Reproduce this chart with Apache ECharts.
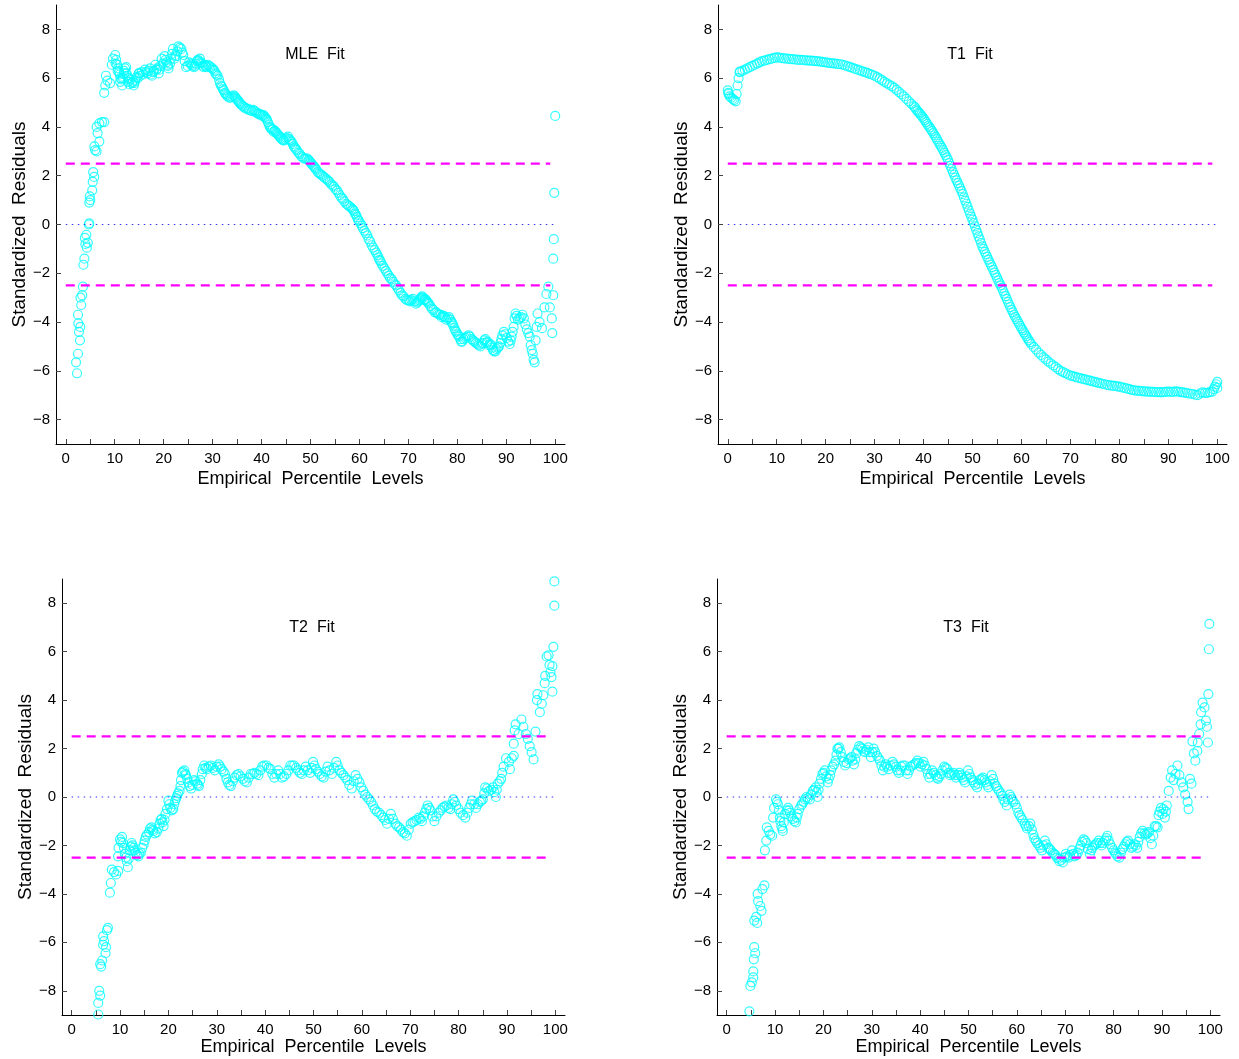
<!DOCTYPE html>
<html>
<head>
<meta charset="utf-8">
<script src="https://cdn.jsdelivr.net/npm/echarts@6/dist/echarts.min.js"></script>
<style>
  html, body { margin: 0; padding: 0; background: #fff; }
  #chart { width: 1239px; height: 1059px; }
</style>
</head>
<body>
<div id="chart"></div>
<script>
// tick positions
const xLabelTicks = [0, 10, 20, 30, 40, 50, 60, 70, 80, 90, 100];
const xMinorTicks = [0, 5, 10, 15, 20, 25, 30, 35, 40, 45, 50, 55, 60, 65, 70, 75, 80, 85, 90, 95, 100];
const yLabelTicks = [-8, -6, -4, -2, 0, 2, 4, 6, 8];

const panelTitles = ['MLE  Fit', 'T1  Fit', 'T2  Fit', 'T3  Fit'];

// reference lines (value space)
const upperLimit = [[0, 2.5], [99, 2.5]];
const lowerLimit = [[0, -2.5], [99, -2.5]];
const zeroLine = [[0, 0], [99.7, 0]];

// residuals: [percentile, residual]
const mlePoints = [
  [2.1,-5.65],[2.3,-6.1],[2.5,-5.3],[2.5,-3.7],[2.55,-4.05],[2.7,-4.4],[2.9,-4.75],[2.95,-4.2],[3.0,-3.0],[3.15,-3.3],
  [3.35,-2.9],[3.5,-2.55],[3.6,-1.65],[3.8,-1.4],[3.9,-0.55],[4.0,-0.8],[4.2,-0.42],[4.3,-0.95],[4.5,-0.75],[4.7,0],
  [4.8,0.05],[4.8,0.9],[4.9,1.15],[5.0,1.0],[5.4,1.4],[5.5,1.75],[5.6,2.15],[5.8,1.95],[5.85,3.2],[6.0,3.05],
  [6.3,3.0],[6.3,4.0],[6.5,3.75],[6.85,3.4],[6.85,4.15],[7.4,4.2],[7.85,4.2],[7.85,5.4],[8.05,5.7],[8.2,6.1],
  [8.5,5.9],[9.05,5.8],[9.4,6.55],[9.65,6.8],[10.1,6.95],[10.3,6.75],[10.5,6.55],[10.7,6.4],[10.9,6.25],[11.0,6.15],
  [11.2,6.0],[11.5,5.7],[11.7,6.0],[11.9,6.3],[12.1,6.4],[12.35,6.45],[12.55,6.1],[12.8,6.0],[13.2,5.95],[13.5,5.8],
  [13.9,5.7],[14.2,5.9],[14.5,6.05],[14.9,6.2],[15.0,6.2],[15.5,6.25],[16.2,6.35],[16.7,6.2],[17.2,6.4],[17.6,6.1],
  [18.0,6.3],[18.3,6.55],[18.7,6.4],[19.0,6.2],[19.3,6.5],[19.6,6.8],[20.2,6.9],[20.6,6.65],[20.9,6.5],[21.0,6.4],
  [21.3,6.6],[21.9,7.2],[22.2,6.8],[22.6,6.9],[23.0,7.3],[23.6,7.2],[24.0,6.95],[24.6,6.45],[25.2,6.65],[25.7,6.55],
  [26.2,6.45],[26.6,6.6],[27.0,6.75],[27.4,6.8],[27.8,6.6],[28.2,6.45],[28.6,6.5],[29.0,6.55],[29.6,6.45],[30.2,6.35],
  [30.6,6.2],[31.0,6.1],[31.5,5.8],[31.9,5.65],[32.3,5.5],[32.7,5.35],[33.1,5.25],[33.7,5.2],[34.3,5.3],[34.7,5.2],
  [35.1,5.1],[35.5,5.0],[35.9,4.9],[36.5,4.8],[37.1,4.75],[37.7,4.7],[38.3,4.7],[38.9,4.6],[39.5,4.55],[39.9,4.5],
  [40.3,4.5],[40.7,4.4],[41.1,4.3],[41.5,4.1],[41.9,3.95],[42.3,3.9],[42.7,3.85],[43.1,3.75],[43.5,3.65],[43.9,3.55],
  [44.4,3.45],[44.9,3.5],[45.4,3.6],[45.9,3.45],[46.4,3.3],[46.8,3.15],[47.2,3.05],[47.8,2.9],[48.4,2.75],[49.0,2.7],
  [49.6,2.65],[50.0,2.55],[50.4,2.45],[50.8,2.35],[51.2,2.25],[51.8,2.1],[52.4,2.0],[53.0,1.9],[53.6,1.8],[54.2,1.65],
  [54.8,1.55],[55.4,1.4],[56.0,1.2],[56.6,1.05],[57.3,0.85],[57.9,0.75],[58.5,0.65],[58.9,0.55],[59.3,0.4],[59.7,0.2],
  [60.2,0.05],[60.7,-0.15],[61.3,-0.35],[61.9,-0.6],[62.5,-0.85],[63.1,-1.05],[63.7,-1.25],[64.1,-1.45],[64.5,-1.6],[65.1,-1.8],
  [65.7,-2.0],[66.3,-2.2],[66.9,-2.35],[67.5,-2.5],[68.1,-2.7],[68.7,-2.9],[69.4,-3.05],[70.0,-3.1],[70.6,-3.1],[71.2,-3.15],
  [71.8,-3.2],[72.2,-3.1],[72.6,-3.0],[73.0,-3.0],[73.4,-3.05],[73.8,-3.15],[74.2,-3.25],[74.8,-3.45],[75.4,-3.6],[76.0,-3.65],
  [76.6,-3.7],[77.0,-3.75],[77.4,-3.8],[78.0,-3.85],[78.6,-3.9],[79.0,-4.05],[79.4,-4.25],[79.8,-4.4],[80.2,-4.55],[80.6,-4.7],
  [81.0,-4.8],[81.6,-4.65],[82.3,-4.55],[82.9,-4.7],[83.5,-4.8],[84.1,-4.9],[84.7,-5.0],[85.2,-4.85],[85.7,-4.7],[86.2,-4.8],
  [86.7,-4.9],[87.1,-5.05],[87.5,-5.2],[88.0,-5.1],[88.5,-5.0],[89.0,-4.7],[89.5,-4.4],[90.1,-4.65],[90.7,-4.9],[91.1,-4.6],
  [91.5,-4.2],[91.9,-3.65],[92.7,-3.85],[93.3,-3.7],[93.9,-4.1],[94.8,-4.6],[95.2,-5.15],[95.6,-5.55],[96.0,-4.75],[96.4,-3.65],
  [96.8,-4.0],[97.3,-4.25],[97.8,-3.4],[98.2,-2.85],[98.6,-2.55],[98.9,-3.4],[99.3,-3.85],[99.4,-4.45],[99.6,-2.9],[99.6,-1.4],
  [99.7,-0.6],[99.8,1.3],[100,4.45]
];
// second pass over the thick MLE band (other edge of the band)
const mleBandPoints = [
  [10.2,6.6],[10.6,6.3],[11.1,5.85],[11.4,5.95],[12.0,6.2],[12.4,6.2],[12.7,5.85],[13.0,5.75],[13.7,5.85],[14.0,5.8],
  [14.7,6.0],[15.2,6.1],[15.8,6.15],[16.4,6.25],[16.9,6.3],[17.4,6.15],[17.8,6.25],[18.5,6.35],[19.1,6.35],[19.8,6.6],
  [20.4,6.75],[20.8,6.55],[21.5,6.8],[21.7,7.0],[22.4,6.95],[22.8,7.1],[23.3,7.25],[23.8,7.05],[24.3,6.7],[24.9,6.5],
  [25.5,6.6],[25.9,6.5],[26.4,6.5],[26.8,6.7],[27.2,6.7],[27.6,6.65],[28.0,6.5],[28.4,6.55],[28.8,6.45],[29.3,6.5],
  [29.9,6.4],[30.4,6.3],[30.8,6.15],[31.3,5.95],[31.7,5.7],[32.1,5.55],[32.5,5.4],[32.9,5.3],[33.4,5.2],[34.0,5.25],
  [34.5,5.25],[34.9,5.15],[35.3,5.05],[35.7,4.95],[36.2,4.85],[36.8,4.75],[37.4,4.7],[38.0,4.65],[38.6,4.65],[39.2,4.55],
  [39.7,4.5],[40.1,4.45],[40.5,4.45],[40.9,4.35],[41.3,4.2],[41.7,4.0],[42.1,3.9],[42.5,3.8],[42.9,3.8],[43.3,3.7],
  [43.7,3.6],[44.1,3.5],[44.6,3.45],[45.1,3.55],[45.6,3.5],[46.1,3.4],[46.6,3.2],[47.0,3.1],[47.5,2.95],[48.1,2.8],
  [48.7,2.7],[49.3,2.7],[49.8,2.6],[50.2,2.5],[50.6,2.4],[51.0,2.3],[51.5,2.15],[52.1,2.05],[52.7,1.95],[53.3,1.85],
  [53.9,1.75],[54.5,1.6],[55.1,1.45],[55.7,1.3],[56.3,1.1],[56.9,0.95],[57.6,0.8],[58.2,0.7],[58.7,0.6],[59.1,0.45],
  [59.5,0.3],[59.9,0.15],[60.5,-0.05],[61.0,-0.25],[61.6,-0.45],[62.2,-0.7],[62.8,-0.95],[63.4,-1.15],[63.9,-1.35],[64.3,-1.5],
  [64.8,-1.7],[65.4,-1.9],[66.0,-2.1],[66.6,-2.25],[67.2,-2.45],[67.8,-2.6],[68.4,-2.8],[69.0,-2.95],[69.7,-3.1],[70.3,-3.15],
  [70.9,-3.05],[71.5,-3.25],[72.0,-3.15],[72.4,-3.05],[72.8,-2.95],[73.2,-3.1],[73.6,-3.1],[74.0,-3.2],[74.5,-3.35],[75.1,-3.5],
  [75.7,-3.6],[76.3,-3.7],[76.8,-3.8],[77.2,-3.75],[77.7,-3.9],[78.3,-3.8],[78.8,-4.0],[79.2,-4.15],[79.6,-4.35],[80.0,-4.5],
  [80.4,-4.6],[80.8,-4.8],[81.3,-4.7],[81.9,-4.6],[82.6,-4.6],[83.2,-4.75],[83.8,-4.85],[84.4,-4.95],[85.0,-4.9],[85.5,-4.75],
  [86.0,-4.85],[86.5,-4.95],[86.9,-4.95],[87.3,-5.15],[87.8,-5.2],[88.3,-5.05],[88.8,-4.85],[89.2,-4.55],[89.8,-4.5],[90.4,-4.8],
  [90.9,-4.75],[91.3,-4.4],[91.7,-3.85],[92.1,-3.75],[92.4,-3.9],[93.0,-3.8],[93.6,-3.85],[94.2,-4.3],[94.5,-4.45],[95.0,-4.95],
  [95.4,-5.3],[95.8,-5.65],[96.2,-4.2]
];

const t1Points = [
  [0,5.5],[0.1,5.4],[0.2,5.35],[0.4,5.25],[0.7,5.2],[1.0,5.15],[1.3,5.1],[1.6,5.05],[1.8,5.35],[2.0,5.7],
  [2.2,6.0],[2.4,6.25],[2.5,6.27],[3,6.3],[3.5,6.35],[4,6.4],[4.5,6.45],[5,6.5],[5.5,6.55],[6,6.6],
  [6.5,6.65],[7,6.7],[7.5,6.72],[8,6.75],[8.5,6.78],[9,6.8],[9.5,6.83],[10,6.85],[10.5,6.84],[11,6.82],
  [11.5,6.81],[12,6.8],[12.5,6.79],[13,6.78],[13.5,6.77],[14,6.76],[14.5,6.75],[15,6.75],[15.5,6.74],[16,6.73],
  [16.5,6.72],[17,6.72],[17.5,6.71],[18,6.7],[18.5,6.69],[19,6.68],[19.5,6.66],[20,6.65],[20.5,6.63],[21,6.62],
  [21.5,6.61],[22,6.6],[22.5,6.58],[23,6.57],[23.5,6.55],[24,6.52],[24.5,6.48],[25,6.45],[25.5,6.42],[26,6.38],
  [26.5,6.35],[27,6.32],[27.5,6.28],[28,6.25],[28.5,6.22],[29,6.18],[29.5,6.14],[30,6.1],[30.5,6.04],[31,5.98],
  [31.5,5.92],[32,5.85],[32.5,5.79],[33,5.73],[33.5,5.67],[34,5.6],[34.5,5.52],[35,5.43],[35.5,5.34],[36,5.25],
  [36.5,5.15],[37,5.05],[37.5,4.95],[38,4.85],[38.25,4.8],[38.5,4.72],[38.75,4.66],[39,4.6],[39.25,4.55],[39.5,4.48],
  [39.75,4.42],[40,4.35],[40.25,4.28],[40.5,4.2],[40.75,4.12],[41,4.05],[41.25,3.98],[41.5,3.9],[41.75,3.83],[42,3.75],
  [42.25,3.66],[42.5,3.58],[42.75,3.5],[43,3.4],[43.25,3.31],[43.5,3.22],[43.75,3.14],[44,3.05],[44.25,2.95],[44.5,2.85],
  [44.75,2.75],[45,2.65],[45.25,2.52],[45.5,2.4],[45.75,2.28],[46,2.15],[46.25,2.04],[46.5,1.92],[46.75,1.81],[47,1.7],
  [47.25,1.59],[47.5,1.48],[47.75,1.37],[48,1.25],[48.25,1.11],[48.5,0.98],[48.75,0.85],[49,0.72],[49.25,0.58],[49.5,0.45],
  [49.75,0.32],[50,0.2],[50.25,0.06],[50.5,-0.08],[50.75,-0.22],[51,-0.35],[51.25,-0.49],[51.5,-0.62],[51.75,-0.76],[52,-0.9],
  [52.25,-1.0],[52.5,-1.12],[52.75,-1.22],[53,-1.33],[53.25,-1.44],[53.5,-1.55],[53.75,-1.65],[54,-1.75],[54.25,-1.86],[54.5,-1.97],
  [54.75,-2.07],[55,-2.18],[55.25,-2.29],[55.5,-2.4],[55.75,-2.5],[56,-2.6],[56.25,-2.72],[56.5,-2.83],[56.75,-2.94],[57,-3.05],
  [57.25,-3.17],[57.5,-3.28],[57.75,-3.39],[58,-3.5],[58.25,-3.6],[58.5,-3.7],[58.75,-3.79],[59,-3.88],[59.25,-3.98],[59.5,-4.07],
  [59.75,-4.16],[60,-4.25],[60.25,-4.33],[60.5,-4.42],[60.75,-4.5],[61,-4.58],[61.25,-4.67],[61.5,-4.75],[61.75,-4.82],[62,-4.9],
  [62.5,-5.02],[63,-5.13],[63.5,-5.25],[64,-5.35],[64.5,-5.45],[65,-5.53],[65.5,-5.62],[66,-5.7],[66.5,-5.78],[67,-5.85],
  [67.5,-5.93],[68,-6.0],[68.5,-6.05],[69,-6.1],[69.5,-6.15],[70,-6.2],[70.5,-6.22],[71,-6.25],[71.5,-6.28],[72,-6.3],
  [72.5,-6.33],[73,-6.35],[73.5,-6.38],[74,-6.4],[74.5,-6.43],[75,-6.45],[75.5,-6.48],[76,-6.5],[76.5,-6.53],[77,-6.55],
  [77.5,-6.58],[78,-6.6],[78.5,-6.61],[79,-6.62],[79.5,-6.64],[80,-6.65],[80.5,-6.68],[81,-6.7],[81.5,-6.72],[82,-6.75],
  [82.5,-6.78],[83,-6.8],[83.5,-6.81],[84,-6.82],[84.5,-6.83],[85,-6.84],[85.5,-6.85],[86,-6.85],[86.5,-6.86],[87,-6.86],
  [87.5,-6.87],[88,-6.87],[88.5,-6.88],[89,-6.87],[89.5,-6.86],[90,-6.85],[90.5,-6.86],[91,-6.86],[91.5,-6.84],[92,-6.85],
  [92.5,-6.87],[93,-6.88],[93.5,-6.9],[94,-6.92],[94.5,-6.94],[95,-6.95],[95.5,-6.98],[96,-7.0],[96.5,-6.93],[97,-6.88],
  [97.5,-6.9],[98,-6.9],[98.5,-6.87],[99,-6.85],[99.3,-6.75],[99.5,-6.65],[99.8,-6.55],[100,-6.45],[100,-6.7]
];

const t2Points = [
  [5.5,-8.98],[5.5,-8.5],[5.7,-8.0],[5.9,-8.2],[5.9,-6.9],[6.1,-7.0],[6.3,-6.75],[6.5,-6.1],[6.5,-5.75],[6.7,-5.95],
  [7.0,-6.45],[7.1,-6.2],[7.3,-5.5],[7.5,-5.4],[7.9,-3.95],[8.1,-3.55],[8.3,-3.0],[8.75,-3.1],[9.2,-3.2],[9.6,-3.05],
  [9.6,-2.45],[9.7,-2.1],[10.0,-1.75],[10.4,-1.65],[10.8,-2.1],[11.0,-2.35],[11.4,-2.65],[11.6,-2.9],[12.0,-2.2],[12.4,-1.9],
  [12.8,-2.1],[13.2,-2.3],[13.8,-2.45],[14.3,-2.3],[14.9,-1.95],[15.3,-1.65],[16.0,-1.45],[16.5,-1.25],[16.9,-1.4],[17.6,-1.45],
  [18.2,-1.1],[18.6,-0.9],[19.0,-1.2],[19.4,-0.7],[20.0,-0.15],[20.4,-0.45],[21.0,-0.5],[21.4,-0.15],[21.8,0.05],[22.3,0.25],
  [22.5,0.45],[22.8,1.0],[23.3,1.1],[23.6,0.9],[24.1,0.6],[24.7,0.35],[25.3,0.7],[25.9,0.55],[26.3,0.45],[26.9,0.95],
  [27.4,1.3],[28.0,1.15],[28.8,1.3],[29.6,1.1],[30.4,1.35],[31.0,1.15],[31.7,0.95],[32.3,0.6],[32.9,0.45],[33.7,0.8],
  [34.5,0.95],[35.4,0.75],[36.2,0.6],[37.0,0.95],[37.8,1.0],[38.6,0.9],[39.4,1.25],[40.3,1.3],[41.1,1.15],[41.9,0.8],
  [42.7,1.1],[43.5,0.8],[44.4,0.95],[45.2,1.3],[46.0,1.3],[46.8,1.1],[47.6,0.95],[48.4,1.25],[49.3,1.0],[49.9,1.45],
  [50.5,1.15],[51.3,0.95],[52.1,0.8],[52.9,1.25],[53.8,0.95],[54.7,1.45],[55.4,1.1],[56.2,0.9],[57.0,0.7],[57.9,0.35],
  [58.7,0.9],[59.5,0.6],[60.3,0.25],[61.1,0],[61.9,-0.2],[62.7,-0.5],[63.6,-0.65],[64.4,-0.85],[65.2,-1.1],[66.0,-0.7],
  [66.9,-1.1],[67.7,-1.25],[68.5,-1.45],[69.3,-1.6],[70.1,-1.1],[70.9,-1.0],[71.8,-0.85],[72.4,-1.0],[73.0,-0.65],[73.6,-0.35],
  [74.2,-0.55],[75.0,-1.0],[75.9,-0.65],[76.7,-0.45],[77.5,-0.35],[78.3,-0.5],[78.9,-0.1],[79.5,-0.35],[80.4,-0.65],[81.4,-0.85],
  [82.2,-0.45],[82.8,-0.15],[83.6,-0.45],[84.4,-0.2],[85.0,-0.1],[85.5,0.4],[86.3,0.25],[87.1,0.4],[87.7,0],[88.1,0.55],
  [88.8,0.75],[89.3,1.25],[89.8,1.6],[90.4,1.45],[90.6,1.15],[91.0,1.6],[91.4,1.7],[91.4,2.2],[91.6,2.75],[91.8,3.0],
  [92.4,2.6],[93.0,3.2],[93.4,2.9],[93.9,2.6],[94.3,2.4],[94.7,2.1],[95.1,1.85],[95.5,1.55],[95.9,2.7],[96.2,4.0],
  [96.3,4.25],[96.8,3.5],[97.2,3.85],[97.5,4.2],[97.8,4.7],[97.9,5.0],[98.2,5.8],[98.6,5.85],[98.8,5.45],[99.0,5.15],
  [99.2,4.95],[99.4,4.35],[99.4,5.4],[99.6,6.2],[99.8,7.9],[99.8,8.9]
];
const t2BandPoints = [
  [10.2,-1.85],[10.6,-1.9],[11.2,-2.5],[11.8,-2.55],[12.2,-2.05],[12.6,-2.0],[13.0,-2.2],[13.5,-2.4],[14.0,-2.35],[14.6,-2.1],
  [15.1,-1.8],[15.6,-1.55],[16.2,-1.3],[16.7,-1.35],[17.2,-1.5],[17.9,-1.3],[18.4,-0.95],[18.8,-1.05],[19.2,-0.95],[19.7,-0.5],
  [20.2,-0.3],[20.7,-0.55],[21.2,-0.3],[21.6,-0.05],[22.0,0.15],[22.6,0.7],[23.0,1.05],[23.5,0.95],[23.9,0.75],[24.4,0.45],
  [25.0,0.5],[25.6,0.65],[26.1,0.5],[26.6,0.7],[27.1,1.15],[27.7,1.2],[28.4,1.25],[29.2,1.2],[30.0,1.25],[30.7,1.25],
  [31.4,1.05],[32.0,0.75],[32.6,0.5],[33.3,0.65],[34.1,0.9],[34.9,0.85],[35.8,0.65],[36.6,0.8],[37.4,0.95],[38.2,0.95],
  [39.0,1.1],[39.8,1.3],[40.7,1.2],[41.5,0.95],[42.3,0.95],[43.1,0.95],[43.9,0.85],[44.8,1.1],[45.6,1.3],[46.4,1.2],
  [47.2,1.0],[48.0,1.1],[48.8,1.1],[49.6,1.2],[50.2,1.3],[50.9,1.05],[51.7,0.85],[52.5,1.05],[53.3,1.1],[54.2,1.2],
  [55.0,1.3],[55.8,1.0],[56.6,0.8],[57.4,0.5],[58.3,0.65],[59.1,0.75],[59.9,0.4],[60.7,0.1],[61.5,-0.1],[62.3,-0.35],
  [63.1,-0.6],[64.0,-0.75],[64.8,-0.95],[65.6,-0.9],[66.4,-0.9],[67.3,-1.2],[68.1,-1.35],[68.9,-1.5],[69.7,-1.35],[70.5,-1.05],
  [71.3,-0.95],[72.1,-0.9],[72.7,-0.8],[73.3,-0.5],[73.9,-0.45],[74.6,-0.8],[75.4,-0.8],[76.3,-0.55],[77.1,-0.4],[77.9,-0.45],
  [78.6,-0.3],[79.2,-0.2],[80.0,-0.5],[80.9,-0.75],[81.8,-0.65],[82.5,-0.3],[83.2,-0.3],[84.0,-0.3],[84.7,-0.15],[85.3,0.15],
  [85.9,0.35],[86.7,0.3],[87.4,0.2],[87.9,0.3],[88.5,0.65],[89.0,1.0]
];

const t3Points = [
  [4.7,-8.85],[4.9,-7.8],[5.2,-7.65],[5.5,-7.45],[5.5,-7.2],[5.6,-6.7],[5.7,-6.2],[5.9,-6.45],[5.7,-5.1],[6.1,-4.95],
  [6.3,-5.2],[6.4,-4.0],[6.5,-4.3],[6.95,-4.5],[7.2,-4.7],[7.4,-3.8],[7.8,-3.65],[7.9,-2.2],[8.2,-1.8],[8.3,-1.25],
  [8.7,-1.4],[9.0,-1.55],[9.4,-1.6],[9.6,-0.85],[9.8,-0.45],[10.2,-0.1],[10.6,-0.3],[11.0,-0.85],[11.3,-1.2],[11.6,-1.4],
  [12.1,-0.7],[12.7,-0.45],[13.1,-0.65],[13.7,-0.9],[14.3,-1.05],[14.7,-0.7],[15.4,-0.35],[15.9,-0.2],[16.5,0],[17.2,-0.1],
  [17.8,0.25],[18.4,0.4],[18.8,0],[19.2,0.55],[19.8,0.95],[20.3,1.1],[20.9,0.6],[21.4,0.9],[21.9,1.25],[22.5,1.5],
  [22.9,2.0],[23.3,2.05],[23.9,1.65],[24.5,1.3],[25.2,1.55],[25.8,1.65],[26.3,1.35],[26.8,1.8],[27.4,2.1],[28.0,2.0],
  [28.6,1.85],[29.3,2.05],[29.8,1.65],[30.4,2.0],[31.1,1.7],[31.7,1.5],[32.3,1.1],[32.9,1.35],[33.5,1.15],[34.3,1.45],
  [35.0,1.25],[35.6,1.0],[36.1,1.25],[36.8,1.3],[37.4,0.95],[38.0,1.25],[38.8,1.35],[39.4,1.5],[40.1,1.25],[40.7,1.45],
  [41.3,1.15],[41.9,0.8],[42.5,1.1],[43.2,0.9],[43.7,0.75],[44.3,0.95],[45.0,1.25],[45.6,1.15],[46.2,0.9],[46.9,1.0],
  [47.4,0.8],[48.1,1.0],[48.7,0.8],[49.3,0.6],[49.9,1.1],[50.5,0.8],[51.1,0.6],[51.8,0.4],[52.3,0.7],[53.0,0.8],
  [53.6,0.6],[54.1,0.4],[54.8,0.9],[55.4,0.55],[56.0,0.35],[56.7,0.15],[57.2,-0.1],[57.9,-0.35],[58.5,0.1],[59.0,-0.1],
  [59.7,-0.3],[60.3,-0.65],[60.9,-0.85],[61.6,-1.1],[62.1,-1.3],[62.8,-1.1],[63.4,-1.55],[63.9,-1.8],[64.6,-2.0],[65.2,-2.2],
  [65.8,-1.8],[66.5,-2.1],[67.0,-2.2],[67.7,-2.35],[68.3,-2.5],[68.8,-2.65],[69.5,-2.7],[70.1,-2.35],[70.7,-2.5],[71.4,-2.2],
  [71.9,-2.45],[72.6,-2.3],[73.2,-2.0],[73.8,-1.75],[74.4,-1.9],[75.1,-2.35],[75.6,-2.1],[76.3,-1.95],[76.9,-1.8],[77.5,-2.0],
  [78.2,-1.8],[78.7,-1.6],[79.3,-1.95],[80.0,-2.2],[80.5,-2.35],[81.2,-2.5],[81.8,-2.15],[82.4,-1.95],[83.0,-1.8],[83.7,-2.1],
  [84.2,-1.95],[84.9,-2.1],[85.4,-1.65],[86.0,-1.4],[86.7,-1.55],[87.3,-1.45],[87.9,-1.95],[88.5,-1.2],[89.1,-1.25],[89.3,-0.75],
  [89.8,-0.45],[90.1,-0.7],[90.6,-0.85],[91.0,-0.35],[91.4,0.25],[91.8,0.8],[92.1,1.1],[92.4,0.7],[92.8,0.95],[93.2,1.3],
  [93.6,0.9],[94.0,0.6],[94.4,0.4],[94.8,0.1],[95.3,-0.2],[95.5,-0.5],[95.8,0.75],[96.1,0.55],[96.3,2.3],[96.6,1.8],
  [96.9,1.5],[97.3,1.9],[97.4,2.25],[97.7,2.6],[98.0,3.0],[98.1,3.5],[98.4,3.9],[98.8,3.7],[99.1,3.15],[99.3,2.9],
  [99.5,2.25],[99.6,4.25],[99.7,6.1],[99.8,7.15]
];
const t3BandPoints = [
  [10.4,-0.2],[10.8,-0.55],[11.1,-1.0],[11.5,-1.3],[11.8,-1.05],[12.4,-0.55],[12.9,-0.55],[13.4,-0.8],[14.0,-1.0],[14.5,-0.85],
  [15.0,-0.5],[15.6,-0.3],[16.2,-0.1],[16.8,-0.05],[17.5,0.1],[18.1,0.3],[18.6,0.2],[19.0,0.3],[19.5,0.75],[20.0,1.0],
  [20.6,0.85],[21.1,0.75],[21.6,1.1],[22.2,1.35],[22.7,1.75],[23.1,2.0],[23.6,1.85],[24.2,1.45],[24.8,1.4],[25.5,1.6],
  [26.0,1.5],[26.6,1.55],[27.1,1.95],[27.7,2.05],[28.3,1.9],[28.9,1.95],[29.5,1.85],[30.1,1.85],[30.7,1.85],[31.4,1.6],
  [32.0,1.3],[32.6,1.25],[33.2,1.25],[33.9,1.3],[34.6,1.35],[35.3,1.1],[35.9,1.1],[36.4,1.3],[37.1,1.1],[37.7,1.1],
  [38.4,1.3],[39.1,1.4],[39.7,1.4],[40.4,1.35],[41.0,1.3],[41.6,0.95],[42.2,0.95],[42.8,1.0],[43.5,0.8],[44.0,0.85],
  [44.6,1.1],[45.3,1.2],[45.9,1.0],[46.5,0.95],[47.2,0.9],[47.8,0.9],[48.4,0.9],[49.0,0.7],[49.6,0.85],[50.2,0.95],
  [50.8,0.7],[51.4,0.5],[52.0,0.55],[52.7,0.75],[53.3,0.7],[53.9,0.5],[54.4,0.65],[55.1,0.75],[55.7,0.45],[56.3,0.25],
  [57.0,0.05],[57.5,-0.2],[58.2,-0.1],[58.8,0],[59.3,-0.2],[60.0,-0.45],[60.6,-0.75],[61.2,-0.95],[61.9,-1.2],[62.5,-1.2],
  [63.1,-1.35],[63.6,-1.7],[64.2,-1.9],[64.9,-2.1],[65.5,-2.0],[66.1,-1.95],[66.8,-2.15],[67.4,-2.3],[68.0,-2.4],[68.6,-2.55],
  [69.2,-2.6],[69.8,-2.5],[70.4,-2.45],[71.0,-2.4],[71.7,-2.35],[72.3,-2.4],[72.9,-2.15],[73.5,-1.85],[74.1,-1.8],[74.7,-2.15],
  [75.4,-2.2],[76.0,-2.0],[76.6,-1.9],[77.2,-1.9],[77.8,-1.9],[78.5,-1.7],[79.0,-1.8],[79.7,-2.1],[80.3,-2.3],[80.8,-2.45],
  [81.5,-2.3],[82.1,-2.05],[82.7,-1.85],[83.4,-1.95],[84.0,-2.05],[84.6,-2.0],[85.1,-1.85],[85.7,-1.5],[86.4,-1.5],[87.0,-1.5],
  [87.6,-1.7],[88.2,-1.6],[88.8,-1.2],[89.5,-0.6],[90.3,-0.5],[90.8,-0.6]
];

const panelPoints = [
  mlePoints.concat(mleBandPoints),
  t1Points,
  t2Points.concat(t2BandPoints),
  t3Points.concat(t3BandPoints)
];

const FONT = '"Liberation Sans", Arial, Helvetica, sans-serif';

const grids = [
  { left: 56, top: 5, width: 509, height: 439 },
  { left: 718, top: 5, width: 509, height: 439 },
  { left: 62, top: 579, width: 503, height: 436 },
  { left: 717, top: 579, width: 503, height: 436 }
];
const titleSpots = [[315, 55], [970, 55], [312, 628], [966, 628]];

const minus = v => String(v).replace('-', '\u2212');

let xAxes = [], yAxes = [], series = [], graphics = [];

grids.forEach((g, i) => {
  xAxes.push({
    gridIndex: i,
    type: 'value',
    min: -2,
    max: 102,
    name: 'Empirical  Percentile  Levels',
    nameLocation: 'middle',
    nameGap: i < 2 ? 26 : 23,
    nameTextStyle: { fontSize: 18, color: '#000', fontFamily: FONT },
    axisLine: { show: true, onZero: false, lineStyle: { color: '#000', width: 1 } },
    axisTick: { show: true, inside: true, length: 5, customValues: xMinorTicks, lineStyle: { color: '#444' } },
    axisLabel: { customValues: xLabelTicks, fontSize: 15, color: '#000', fontFamily: FONT, margin: 7, formatter: minus },
    splitLine: { show: false }
  });
  yAxes.push({
    gridIndex: i,
    type: 'value',
    min: -9,
    max: 9,
    name: 'Standardized  Residuals',
    nameLocation: 'middle',
    nameGap: 27,
    nameTextStyle: { fontSize: 19, color: '#000', fontFamily: FONT },
    axisLine: { show: true, onZero: false, lineStyle: { color: '#000', width: 1 } },
    axisTick: { show: true, inside: true, length: 5, customValues: yLabelTicks, lineStyle: { color: '#444' } },
    axisLabel: { customValues: yLabelTicks, fontSize: 15, color: '#000', fontFamily: FONT, margin: 6, formatter: minus },
    splitLine: { show: false }
  });

  series.push({
    type: 'scatter',
    xAxisIndex: i,
    yAxisIndex: i,
    symbol: 'circle',
    symbolSize: 9,
    itemStyle: { color: 'rgba(0,0,0,0)', borderColor: '#00ffff', borderWidth: 1.2 },
    data: panelPoints[i],
    z: 2
  });
  [upperLimit, lowerLimit].forEach(lim => {
    series.push({
      type: 'line',
      xAxisIndex: i,
      yAxisIndex: i,
      symbol: 'none',
      lineStyle: { color: '#ff00ff', width: 2.2, type: [9, 6] },
      data: lim,
      z: 3
    });
  });
  series.push({
    type: 'line',
    xAxisIndex: i,
    yAxisIndex: i,
    symbol: 'none',
    lineStyle: { color: '#3333ff', width: 1, type: [1.5, 4.5] },
    data: zeroLine,
    z: 3
  });

  graphics.push({
    type: 'text',
    x: titleSpots[i][0],
    y: titleSpots[i][1],
    style: {
      text: panelTitles[i],
      fontSize: 16,
      fontFamily: FONT,
      fill: '#000',
      align: 'center',
      verticalAlign: 'middle'
    }
  });
});

const chart = echarts.init(document.getElementById('chart'), null, { renderer: 'canvas' });
chart.setOption({
  animation: false,
  backgroundColor: '#fff',
  grid: grids,
  xAxis: xAxes,
  yAxis: yAxes,
  series: series,
  graphic: graphics
});
</script>
</body>
</html>
